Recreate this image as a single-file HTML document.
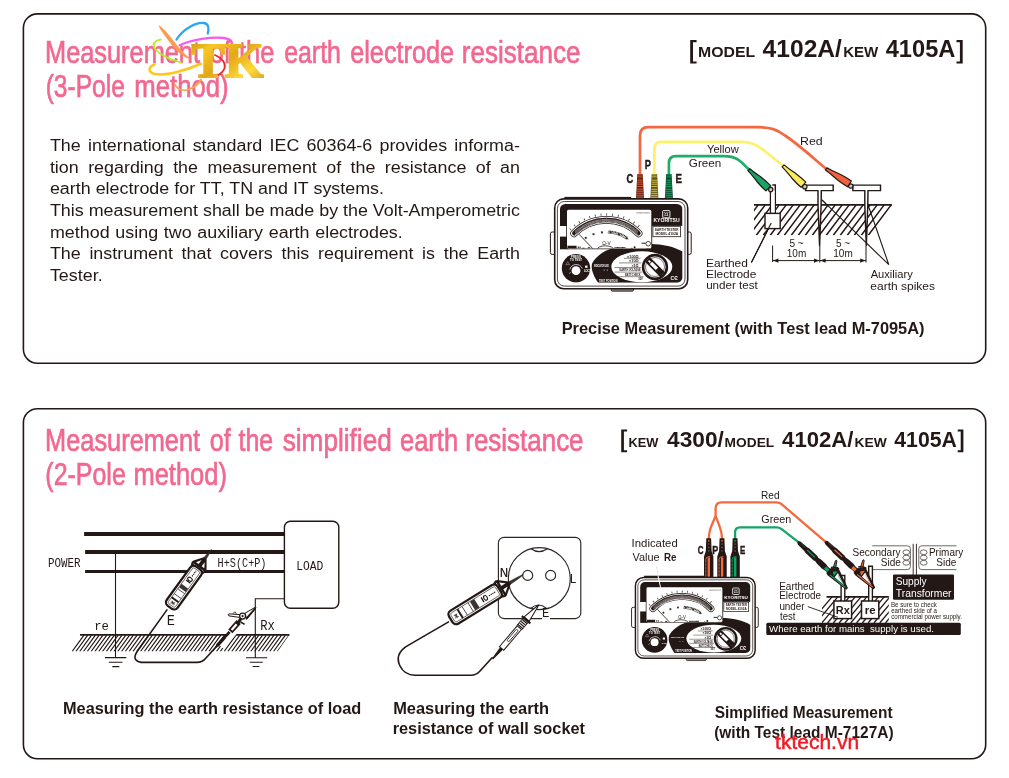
<!DOCTYPE html>
<html><head><meta charset="utf-8">
<style>
html,body{margin:0;padding:0;background:#fff;}
body{width:1009px;height:778px;overflow:hidden;font-family:"Liberation Sans",sans-serif;}
svg{display:block;will-change:transform;}
text{font-family:"Liberation Sans",sans-serif;fill:#231815;}
.t{fill:#f2688f;font-size:31.6px;stroke:#f2688f;stroke-width:0.7px;}
.b{font-weight:bold;font-size:16px;}
.p{font-size:17.3px;}
.s{font-size:11.5px;}
</style></head><body>
<svg width="1009" height="778" viewBox="0 0 1009 778">
<defs>
<filter id="gray" x="-5%" y="-5%" width="110%" height="110%" color-interpolation-filters="sRGB"><feColorMatrix type="saturate" values="0"/></filter>
<g id="tester">
  <!-- lid line -->
  <rect x="16.4" y="4.9" width="66.8" height="2" fill="#231815"/>
  <!-- side tabs -->
  <rect x="2.4" y="40" width="6" height="22.4" rx="1.8" fill="#fff" stroke="#231815" stroke-width="1"/>
  <rect x="138" y="40" width="5.2" height="22.4" rx="1.8" fill="#fff" stroke="#231815" stroke-width="1"/>
  <!-- bottom tab -->
  <rect x="63.2" y="95" width="22.3" height="4.2" rx="1.2" fill="#8a8583" stroke="#231815" stroke-width="0.8"/>
  <!-- body -->
  <rect x="6.7" y="6.9" width="133" height="89.8" rx="9" fill="#fff" stroke="#231815" stroke-width="1.6"/>
  <rect x="9.4" y="9.5" width="127.6" height="84.6" rx="7" fill="none" stroke="#231815" stroke-width="0.8"/>
  <clipPath id="tp"><rect x="11.9" y="11.9" width="122.6" height="78.8" rx="5.5"/></clipPath>
  <g clip-path="url(#tp)">
    <rect x="11.9" y="11.9" width="122.6" height="78.8" fill="#fff"/>
    <!-- top black area -->
    <rect x="11.9" y="11.9" width="122.6" height="22" fill="#231815"/>
    <!-- left black under band -->
    <rect x="11.9" y="44.6" width="8" height="12.7" fill="#231815"/>
    <rect x="11.9" y="33" width="8" height="1" fill="#231815"/>
    <!-- swoosh -->
    <path d="M134.6,59.6 C126,54.5 113,51.6 100,52 L62.3,57.1 C55,59.5 47.5,65 44.3,71 C42.6,75 44.2,82.5 50.2,90.8 L134.6,90.8 Z" fill="#231815"/>
    <!-- window backing (black frame) -->
    <rect x="18.2" y="17" width="86" height="40.3" rx="1.5" fill="#231815"/>
    <!-- dial disc -->
    <circle cx="28" cy="76.2" r="14.2" fill="#231815"/>
  </g>
  <!-- meter window -->
  <rect x="19" y="17.8" width="84.3" height="38.7" rx="1.5" fill="#fff"/>
  <clipPath id="tw"><rect x="19" y="17.8" width="84.3" height="38.7" rx="1.5"/></clipPath>
  <g clip-path="url(#tw)" fill="none" stroke="#231815">
    <!-- outer ticks -->
    <path d="M22.2,37.6 A50.6,50.6 0 0 1 94.5,37.6" stroke-width="2.2" stroke-dasharray="0.7 5.05"/>
    <!-- scale tube -->
    <path d="M26.1,41.4 A45.3,45.3 0 0 1 90.6,41.4" stroke-width="7.6" stroke-linecap="round"/>
    <path d="M26.1,41.4 A45.3,45.3 0 0 1 90.6,41.4" stroke="#fff" stroke-width="6.1" stroke-linecap="round"/>
    <path d="M26.4,41.2 A45.3,45.3 0 0 1 90.3,41.2" stroke="#231815" stroke-width="4.6" stroke-linecap="round"/>
    <path d="M27,39.6 A46.6,46.6 0 0 1 89.7,39.6" stroke="#fff" stroke-width="1.1" stroke-dasharray="0.45 0.6"/>
    <path d="M27.4,42.6 A43.8,43.8 0 0 1 89.3,42.6" stroke="#fff" stroke-width="1.2" stroke-dasharray="0.5 0.7"/>
    <path d="M26.8,41.3 A45.3,45.3 0 0 1 89.9,41.3" stroke="#fff" stroke-width="0.45"/>
    <!-- inner numbers -->
    <path d="M37,46.5 A37.5,37.5 0 0 1 80.5,47.5" stroke-width="2" stroke-dasharray="2 6.6" stroke="#3a3330"/>
    <!-- battery text arc -->
    <path d="M60.5,39.3 Q71,40 79,45.4" stroke-width="1.8" stroke-dasharray="1.1 0.5" stroke="#3a3330"/>
    <path d="M59.6,40.9 Q70,41.6 77.5,46.6 L80.5,47" stroke-width="0.6"/>
    <!-- center line -->
    <path d="M58.4,22 V31.5" stroke-width="0.6" stroke="#8a8583"/>
    <!-- needle -->
    <path d="M31.2,42.4 L45.6,57.5" stroke-width="0.9"/>
    <!-- pivot bump -->
    <path d="M49.2,57.6 A8.2,3.8 0 0 1 65.6,57.6" stroke-width="0.8"/>
    <!-- zero adjust -->
    <circle cx="100.2" cy="51.7" r="2.3" stroke-width="0.8"/>
    <path d="M93.5,51.2 H97.6" stroke-width="1"/>
    <path d="M98,56.6 H102" stroke-width="0.7"/>
    <!-- bottom small marks -->
    <path d="M19.4,55.3 H28.6" stroke-width="3"/>
    <path d="M29.8,55.2 H32.6" stroke-width="1.6" stroke-dasharray="1 0.8"/>
    <path d="M34.5,56.4 H36.5 M39.8,55.8 H42" stroke-width="1.1"/>
    <path d="M66.5,55.6 H77.5" stroke-width="1.2" stroke-dasharray="0.9 0.35"/>
    <path d="M82.8,56.4 H84.6" stroke-width="0.9"/>
    <circle cx="86.6" cy="55.2" r="1" fill="#231815" stroke="none"/>
    <path d="M88.5,20.9 H102" stroke-width="1" stroke-dasharray="0.8 0.4" stroke="#6b6461"/>
  </g>
  <text x="54.3" y="52.9" font-size="5.6" style="fill:#231815" textLength="8.4" lengthAdjust="spacingAndGlyphs">Ω-V</text>
  <!-- logo -->
  <rect x="114.7" y="18.6" width="7.2" height="7.2" rx="0.8" fill="#231815" stroke="#fff" stroke-width="0.9"/>
  <path d="M116.3,20.2 L120.3,24.2 M120.3,20.2 L116.3,24.2" stroke="#fff" stroke-width="0.8"/>
  <circle cx="118.3" cy="22.2" r="1.3" fill="#231815" stroke="#fff" stroke-width="0.6"/>
  <text x="105.4" y="30.4" font-size="4.6" font-weight="bold" style="fill:#fff" textLength="26.3" lengthAdjust="spacingAndGlyphs">KYORITSU</text>
  <!-- model label -->
  <rect x="104.9" y="34.3" width="27.6" height="10.4" fill="#fff" stroke="#231815" stroke-width="0.8"/>
  <text x="107" y="38.9" font-size="3.9" font-weight="bold" textLength="23.6" lengthAdjust="spacingAndGlyphs">EARTH TESTER</text>
  <text x="107.4" y="43.3" font-size="3.9" font-weight="bold" textLength="22.8" lengthAdjust="spacingAndGlyphs">MODEL 4102A</text>
  <!-- selector ellipse -->
  <ellipse cx="93.8" cy="74.8" rx="30.5" ry="15.5" fill="#fff"/>
  <g font-size="3.3" font-weight="bold" text-anchor="end">
    <text x="90.6" y="65.6" textLength="11.5" lengthAdjust="spacingAndGlyphs">×100Ω</text>
    <text x="90.6" y="70.2" textLength="9.5" lengthAdjust="spacingAndGlyphs">×10Ω</text>
    <text x="90.6" y="74.8" textLength="7.2" lengthAdjust="spacingAndGlyphs">×1Ω</text>
    <text x="92.6" y="79.4" textLength="21" lengthAdjust="spacingAndGlyphs">EARTH VOLTAGE</text>
    <text x="92.6" y="84" textLength="15.5" lengthAdjust="spacingAndGlyphs">BATT.CHECK</text>
    <text x="94.8" y="88" textLength="4.6" lengthAdjust="spacingAndGlyphs">30V</text>
  </g>
  <g stroke="#231815" stroke-width="0.5" fill="none">
    <path d="M76,66.3 H92.5 M71,70.9 H93 M66.5,75.5 H93 M66.5,80.1 H94 M70,84.7 H95.5"/>
  </g>
  <!-- knob -->
  <circle cx="107" cy="75" r="11.9" fill="#fff" stroke="#231815" stroke-width="2.6"/>
  <circle cx="107" cy="75" r="9.5" fill="none" stroke="#231815" stroke-width="0.6"/>
  <g transform="translate(0.7,0.7) rotate(45 106.3 74.3)">
    <rect x="95.6" y="70.9" width="21.4" height="6.8" rx="1" fill="#231815"/>
    <rect x="100.5" y="72.6" width="8.5" height="3.4" fill="#fff"/>
    <rect x="97.3" y="73.4" width="2.4" height="1.8" fill="#fff"/>
  </g>
  <!-- dial details -->
<g transform="translate(0.5,1.1)">
  <circle cx="27.5" cy="77.6" r="4.4" fill="#fff"/>
  <path d="M21.3,76.5 A6.6,6.6 0 0 1 33.8,75.5" fill="none" stroke="#fff" stroke-width="0.7"/>
  <path d="M20.8,80.6 L22.2,79" stroke="#fff" stroke-width="0.6"/>
  <text x="27.5" y="64.9" font-size="2.9" font-weight="bold" text-anchor="middle" style="fill:#fff">PRESS</text>
  <text x="27.5" y="68.2" font-size="2.9" font-weight="bold" text-anchor="middle" style="fill:#fff">TO TEST</text>
  <path d="M17.3,71.6 L19.2,68.6 L21.1,71.6 Z" fill="none" stroke="#bbb" stroke-width="0.5"/>
  <rect x="36.6" y="72.5" width="2.4" height="2.2" fill="#fff"/>
  <text x="35.4" y="79.4" font-size="2.7" font-weight="bold" style="fill:#fff">LOCK</text>
  </g>
  <!-- swoosh text -->
  <text x="46" y="74.6" font-size="2.8" font-weight="bold" style="fill:#fff" textLength="15" lengthAdjust="spacingAndGlyphs">INDICATOR LED</text>
  <circle cx="56.2" cy="77.9" r="0.5" fill="#fff"/><circle cx="59.4" cy="77.9" r="0.5" fill="#fff"/>
  <text x="51" y="90" font-size="3" font-weight="bold" style="fill:#fff" textLength="18.5" lengthAdjust="spacingAndGlyphs">TEST POSITION</text>
  <!-- CE -->
  <text x="122.6" y="88" font-size="6" font-weight="bold" style="fill:#fff" textLength="7.2" lengthAdjust="spacingAndGlyphs">CЄ</text>
</g>

</defs>
<!-- frames -->
<rect x="23.4" y="13.9" width="962.3" height="349.3" rx="14" ry="14" fill="#fff" stroke="#231815" stroke-width="1.6"/>
<rect x="23.4" y="408.7" width="962.3" height="350" rx="14" ry="14" fill="#fff" stroke="#231815" stroke-width="1.6"/>

<!-- titles -->
<text x="45.02" y="62.8" font-size="31.6" textLength="154.99" lengthAdjust="spacingAndGlyphs" class="t">Measurement</text>
<text x="209.71" y="62.8" font-size="31.6" textLength="21.00" lengthAdjust="spacingAndGlyphs" class="t">of</text>
<text x="238.90" y="62.8" font-size="31.6" textLength="35.43" lengthAdjust="spacingAndGlyphs" class="t">the</text>
<text x="284.22" y="62.8" font-size="31.6" textLength="56.67" lengthAdjust="spacingAndGlyphs" class="t">earth</text>
<text x="350.21" y="62.8" font-size="31.6" textLength="103.81" lengthAdjust="spacingAndGlyphs" class="t">electrode</text>
<text x="461.87" y="62.8" font-size="31.6" textLength="118.68" lengthAdjust="spacingAndGlyphs" class="t">resistance</text>
<text x="45.65" y="97" font-size="31.6" textLength="79.25" lengthAdjust="spacingAndGlyphs" class="t">(3-Pole</text>
<text x="134.29" y="97" font-size="31.6" textLength="94.34" lengthAdjust="spacingAndGlyphs" class="t">method)</text>
<text x="45.12" y="450.8" font-size="31.6" textLength="154.99" lengthAdjust="spacingAndGlyphs" class="t">Measurement</text>
<text x="209.71" y="450.8" font-size="31.6" textLength="21.00" lengthAdjust="spacingAndGlyphs" class="t">of</text>
<text x="238.50" y="450.8" font-size="31.6" textLength="34.61" lengthAdjust="spacingAndGlyphs" class="t">the</text>
<text x="282.69" y="450.8" font-size="31.6" textLength="109.08" lengthAdjust="spacingAndGlyphs" class="t">simplified</text>
<text x="400.00" y="450.8" font-size="31.6" textLength="58.13" lengthAdjust="spacingAndGlyphs" class="t">earth</text>
<text x="465.28" y="450.8" font-size="31.6" textLength="118.27" lengthAdjust="spacingAndGlyphs" class="t">resistance</text>
<text x="45.33" y="485" font-size="31.6" textLength="80.48" lengthAdjust="spacingAndGlyphs" class="t">(2-Pole</text>
<text x="133.41" y="485" font-size="31.6" textLength="93.51" lengthAdjust="spacingAndGlyphs" class="t">method)</text>

<!-- model labels -->
<g>
<path d="M696.6,40.1 H690.2 V63.5 H696.6 V61.4 H693.0 V42.2 H696.6 Z" fill="#231815"/><path d="M956.5,40.1 H962.7 V63.5 H956.5 V61.4 H959.9000000000001 V42.2 H956.5 Z" fill="#231815"/><path d="M627.1,429.5 H621.2 V452.3 H627.1 V450.3 H623.9000000000001 V431.5 H627.1 Z" fill="#231815"/><path d="M957.7,429.5 H963.4 V452.3 H957.7 V450.3 H960.6999999999999 V431.5 H957.7 Z" fill="#231815"/>
<text x="698.01" y="57.2" font-size="14" font-weight="bold" textLength="57.16" lengthAdjust="spacingAndGlyphs">MODEL</text>
<text x="762.60" y="57.2" font-size="23.7" font-weight="bold" textLength="79.32" lengthAdjust="spacingAndGlyphs">4102A/</text>
<text x="843.16" y="57.2" font-size="14" font-weight="bold" textLength="35.10" lengthAdjust="spacingAndGlyphs">KEW</text>
<text x="885.70" y="57.2" font-size="23.7" font-weight="bold" textLength="69.75" lengthAdjust="spacingAndGlyphs">4105A</text>
<text x="628.40" y="446.6" font-size="13.6" font-weight="bold" textLength="29.88" lengthAdjust="spacingAndGlyphs">KEW</text>
<text x="667.00" y="446.6" font-size="22.7" font-weight="bold" textLength="56.82" lengthAdjust="spacingAndGlyphs">4300/</text>
<text x="724.64" y="446.6" font-size="13.6" font-weight="bold" textLength="49.59" lengthAdjust="spacingAndGlyphs">MODEL</text>
<text x="782.10" y="446.6" font-size="22.7" font-weight="bold" textLength="71.42" lengthAdjust="spacingAndGlyphs">4102A/</text>
<text x="854.54" y="446.6" font-size="13.6" font-weight="bold" textLength="32.24" lengthAdjust="spacingAndGlyphs">KEW</text>
<text x="894.30" y="446.6" font-size="22.7" font-weight="bold" textLength="62.60" lengthAdjust="spacingAndGlyphs">4105A</text>
</g>

<!-- paragraph -->
<g class="p" transform="translate(49.9,0) scale(1.0348,1)">
<text x="0" y="151.3" style="word-spacing:2.18px">The international standard IEC 60364-6 provides informa-</text>
<text x="0" y="172.9" style="word-spacing:4.28px">tion regarding the measurement of the resistance of an</text>
<text x="0" y="194.5">earth electrode for TT, TN and IT systems.</text>
<text x="0" y="216.4" style="word-spacing:-0.04px">This measurement shall be made by the Volt-Amperometric</text>
<text x="0" y="238" style="word-spacing:0.73px">method using two auxiliary earth electrodes.</text>
<text x="0" y="259.5" style="word-spacing:3.57px">The instrument that covers this requirement is the Earth</text>
<text x="0" y="281.1">Tester.</text>
</g>

<!-- captions -->
<g>
<text x="561.68" y="334" font-size="16.6" font-weight="bold" textLength="362.82" lengthAdjust="spacingAndGlyphs">Precise Measurement (with Test lead M-7095A)</text>
<text x="62.98" y="713.8" font-size="16.6" font-weight="bold" textLength="298.26" lengthAdjust="spacingAndGlyphs">Measuring the earth resistance of load</text>
<text x="393.17" y="714.1" font-size="16.6" font-weight="bold" textLength="155.92" lengthAdjust="spacingAndGlyphs">Measuring the earth</text>
<text x="392.68" y="733.6" font-size="16.6" font-weight="bold" textLength="192.30" lengthAdjust="spacingAndGlyphs">resistance of wall socket</text>
<text x="714.66" y="717.6" font-size="16.6" font-weight="bold" textLength="177.92" lengthAdjust="spacingAndGlyphs">Simplified Measurement</text>
<text x="714.17" y="737.6" font-size="16.6" font-weight="bold" textLength="179.48" lengthAdjust="spacingAndGlyphs">(with Test lead M-7127A)</text>
</g>
<text x="775.1" y="749.4" font-size="21" textLength="84" lengthAdjust="spacingAndGlyphs" style="fill:#ee1c25;stroke:#ee1c25;stroke-width:0.5px">tktech.vn</text>

<g id="logo">
<defs>
<linearGradient id="gold" x1="0" y1="0" x2="1" y2="1">
<stop offset="0" stop-color="#b8860b"/><stop offset="0.25" stop-color="#f7c623"/><stop offset="0.5" stop-color="#e3a81a"/><stop offset="0.75" stop-color="#ffd83a"/><stop offset="1" stop-color="#c8961a"/>
</linearGradient>
<filter id="soft" x="-10%" y="-10%" width="120%" height="120%"><feGaussianBlur stdDeviation="0.5"/></filter>
</defs>
<g fill="none" stroke-linecap="round" filter="url(#soft)">
<path d="M176.5,39.5 C183,29 196,22 204,23 C209,24 209,29 207.8,33.5" stroke="#2aa8f2" stroke-width="2.3"/>
<path d="M179.6,45.2 C192,39.5 212,36.5 224,38 C230,39 232.5,41 232,43.5" stroke="#f45cf0" stroke-width="2.3"/>
<path d="M160.8,39.6 C154,40.5 151.5,45 156,50 C161,55.5 170,59.5 181,62.5" stroke="#b7ee1e" stroke-width="1.8"/>
<path d="M154.5,64.5 C148,67 148,72 154,73.8 C165,76.5 186,70.5 201,63.8" stroke="#fbc81e" stroke-width="2.6"/>
<path d="M174.7,84.5 C178,90 184,91.5 190,89 C195,86.8 199,83 201,79.5" stroke="#fca04a" stroke-width="1.8"/>
<path d="M215,55 C222,58 226,63 224.6,68 C223.5,71.5 221,73.5 218.5,75" stroke="#f0281e" stroke-width="1.8"/>
</g>
<path d="M158.5,25.2 C162,26 170,36 176,44 C182,51.5 188,57 191.5,59.5 C185,58.5 177,52 171,44 C165,36 160,29.5 158.5,25.2 Z" fill="#fb9a4e" filter="url(#soft)"/>
<text x="191.5" y="76.8" font-size="48.5" font-weight="bold" textLength="72" lengthAdjust="spacingAndGlyphs" style="font-family:'Liberation Serif',serif;fill:url(#gold);stroke:url(#gold);stroke-width:1.8px;stroke-linejoin:miter" filter="url(#soft)">TK</text>
</g>
<!--LOGO-->
<g id="d1">
<!-- wires -->
<g fill="none" stroke-width="2.7" stroke-linecap="butt">
<path d="M640,175.5 V135.5 Q640,127.2 648.3,127.2 H757 C771,127.2 777,129.5 785,135.5 C798,144 812,157 826.6,169.2" stroke="#f4683f"/>
<path d="M654.4,175.5 V149 Q654.4,141.9 661.5,141.9 H741 C752,141.9 757,145 765.7,151.8 L783.5,166.3" stroke="#fdf16a"/>
<path d="M668.9,175.5 V163.2 Q668.9,156.1 676,156.1 H724 C736,156.1 740,160 749.4,170.2" stroke="#1fae67"/>
</g>
<!-- plugs -->
<path d="M637.3,173.9 L642.7,173.9 L644.0,198.3 L636.0,198.3 Z" fill="#6a2413"/><path d="M637.75,174.90 H642.25" stroke="#cf5630" stroke-width="1"/><path d="M637.64,176.90 H642.36" stroke="#cf5630" stroke-width="1"/><path d="M637.46,180.20 H642.54" stroke="#cf5630" stroke-width="1"/><path d="M637.36,182.20 H642.64" stroke="#cf5630" stroke-width="1"/><path d="M637.25,184.20 H642.75" stroke="#cf5630" stroke-width="1"/><path d="M637.13,186.50 H642.87" stroke="#cf5630" stroke-width="1"/><path d="M636.98,189.30 H643.02" stroke="#cf5630" stroke-width="1"/><path d="M636.87,191.30 H643.13" stroke="#cf5630" stroke-width="1"/><path d="M636.77,193.30 H643.23" stroke="#cf5630" stroke-width="1"/><path d="M636.66,195.30 H643.34" stroke="#cf5630" stroke-width="1"/><path d="M636.56,197.20 H643.44" stroke="#cf5630" stroke-width="1"/>
<path d="M651.6999999999999,173.9 L657.1,173.9 L658.4,198.3 L650.4,198.3 Z" fill="#575018"/><path d="M652.15,174.90 H656.65" stroke="#d2c546" stroke-width="1"/><path d="M652.04,176.90 H656.76" stroke="#d2c546" stroke-width="1"/><path d="M651.86,180.20 H656.94" stroke="#d2c546" stroke-width="1"/><path d="M651.76,182.20 H657.04" stroke="#d2c546" stroke-width="1"/><path d="M651.65,184.20 H657.15" stroke="#d2c546" stroke-width="1"/><path d="M651.53,186.50 H657.27" stroke="#d2c546" stroke-width="1"/><path d="M651.38,189.30 H657.42" stroke="#d2c546" stroke-width="1"/><path d="M651.27,191.30 H657.53" stroke="#d2c546" stroke-width="1"/><path d="M651.17,193.30 H657.63" stroke="#d2c546" stroke-width="1"/><path d="M651.06,195.30 H657.74" stroke="#d2c546" stroke-width="1"/><path d="M650.96,197.20 H657.84" stroke="#d2c546" stroke-width="1"/>
<path d="M666.1999999999999,173.9 L671.6,173.9 L672.9,198.3 L664.9,198.3 Z" fill="#08482d"/><path d="M666.65,174.90 H671.15" stroke="#19a464" stroke-width="1"/><path d="M666.54,176.90 H671.26" stroke="#19a464" stroke-width="1"/><path d="M666.36,180.20 H671.44" stroke="#19a464" stroke-width="1"/><path d="M666.26,182.20 H671.54" stroke="#19a464" stroke-width="1"/><path d="M666.15,184.20 H671.65" stroke="#19a464" stroke-width="1"/><path d="M666.03,186.50 H671.77" stroke="#19a464" stroke-width="1"/><path d="M665.88,189.30 H671.92" stroke="#19a464" stroke-width="1"/><path d="M665.77,191.30 H672.03" stroke="#19a464" stroke-width="1"/><path d="M665.67,193.30 H672.13" stroke="#19a464" stroke-width="1"/><path d="M665.56,195.30 H672.24" stroke="#19a464" stroke-width="1"/><path d="M665.46,197.20 H672.34" stroke="#19a464" stroke-width="1"/>
<use href="#tester" transform="translate(548,192)"/>
<!-- labels C P E -->
<g font-weight="bold" font-size="13" stroke="#231815" stroke-width="0.45">
<text x="626.61" y="183.2" textLength="6.77" lengthAdjust="spacingAndGlyphs" class="f" font-size="13.52">C</text>
<text x="644.72" y="168.7" textLength="6.23" lengthAdjust="spacingAndGlyphs" class="f" font-size="13.52">P</text>
<text x="675.59" y="183.2" textLength="6.46" lengthAdjust="spacingAndGlyphs" class="f" font-size="13.52">E</text>
</g>
<g font-size="11.3">
<text x="707.03" y="152.6" textLength="31.64" lengthAdjust="spacingAndGlyphs" class="f" font-size="11.75">Yellow</text>
<text x="688.85" y="167.2" textLength="32.40" lengthAdjust="spacingAndGlyphs" class="f" font-size="11.75">Green</text>
<text x="800.04" y="145.2" textLength="22.66" lengthAdjust="spacingAndGlyphs" class="f" font-size="11.75">Red</text>
</g>
<!-- ground -->
<clipPath id="h1c"><rect x="754" y="204" width="160" height="31.3"/></clipPath>
<path d="M758.2,204.9 l-22.9,30.4 M765.2,204.9 l-22.9,30.4 M772.2,204.9 l-22.9,30.4 M779.2,204.9 l-22.9,30.4 M786.2,204.9 l-22.9,30.4 M793.2,204.9 l-22.9,30.4 M800.2,204.9 l-22.9,30.4 M807.2,204.9 l-22.9,30.4 M814.2,204.9 l-22.9,30.4 M821.2,204.9 l-22.9,30.4 M828.2,204.9 l-22.9,30.4 M835.2,204.9 l-22.9,30.4 M842.2,204.9 l-22.9,30.4 M849.2,204.9 l-22.9,30.4 M856.2,204.9 l-22.9,30.4 M863.2,204.9 l-22.9,30.4 M870.2,204.9 l-22.9,30.4 M877.2,204.9 l-22.9,30.4 M884.2,204.9 l-22.9,30.4 M891.2,204.9 l-22.9,30.4" stroke="#231815" stroke-width="1.5" fill="none" clip-path="url(#h1c)"/>
<path d="M754,204.9 H891.9" stroke="#231815" stroke-width="1.9"/>
<!-- pointer lines -->
<path d="M822.2,200.2 L888.8,264.7 L869,207.5 M751.4,262.6 L771.2,223.1" stroke="#231815" stroke-width="1.1" fill="none"/>
<!-- electrode stake + box -->
<path d="M770.5,190 V213.4 H775.3 V184.9 H772.3" fill="#fff" stroke="#231815" stroke-width="1.45"/>
<rect x="771.2" y="190.5" width="3.4" height="22" fill="#fff"/>
<rect x="765" y="213.4" width="15.2" height="15.2" fill="#fff" stroke="#231815" stroke-width="1.4"/>
<path d="M751.4,262.6 L771.2,223.1" stroke="#231815" stroke-width="1.1" fill="none"/>
<!-- spikes -->
<path d="M805.6,185.1 H833.2 V190.6 H821.3 L821.1,205 L819.6,246 L818,205 L818,190.6 H805.6 Z" fill="#fff" stroke="#231815" stroke-width="1.45" stroke-linejoin="miter"/>
<path d="M852.9,185.1 H880.5 V190.6 H868 L867.8,205 L866.3,246 L864.8,205 L864.8,190.6 H852.9 Z" fill="#fff" stroke="#231815" stroke-width="1.45" stroke-linejoin="miter"/>
<path d="M821.6,199.6 L826,203.9 M868.6,206.5 L868,204.6" stroke="#231815" stroke-width="1.1"/>
<!-- clips -->
<g stroke="#231815" stroke-width="1.2" stroke-linejoin="round">
<circle cx="770.7" cy="189.6" r="2.2" fill="#c9c9c9"/><g transform="translate(748.9,169.7) rotate(43.8)"><path d="M0,-1.4 C6.8,-1.7 9.5,-2.4 14.9,-3.1 C20.3,-3.6 24.3,-3.6 27.0,-3.5 L27.0,3.5 C24.3,3.6 20.3,3.6 14.9,3.1 C9.5,2.4 6.8,1.7 0,1.4 Z" fill="#17a565"/></g>
<circle cx="804.8" cy="186.7" r="2.2" fill="#c9c9c9"/><g transform="translate(783.1,165.9) rotate(42.8)"><path d="M0,-1.4 C6.9,-1.7 9.7,-2.4 15.2,-3.1 C20.8,-3.6 24.9,-3.6 27.7,-3.5 L27.7,3.5 C24.9,3.6 20.8,3.6 15.2,3.1 C9.7,2.4 6.9,1.7 0,1.4 Z" fill="#f9ea5e"/></g>
<circle cx="850.8" cy="186" r="2.2" fill="#c9c9c9"/><g transform="translate(826.2,168.9) rotate(32.8)"><path d="M0,-1.4 C6.9,-1.7 9.7,-2.4 15.2,-3.1 C20.8,-3.6 24.9,-3.6 27.7,-3.5 L27.7,3.5 C24.9,3.6 20.8,3.6 15.2,3.1 C9.7,2.4 6.9,1.7 0,1.4 Z" fill="#ef623c"/></g>
</g>
<!-- dimension -->
<g stroke="#231815" stroke-width="1" fill="none">
<path d="M772.6,245.5 V262 M772.6,260.6 H866 M819.8,246 V262.5 M866,246 V262.5"/>
</g>
<g fill="#231815">
<path d="M773,260.6 l5.4,-2.1 v4.2 Z M819.4,260.6 l-5.4,-2.1 v4.2 Z M820.2,260.6 l5.4,-2.1 v4.2 Z M865.6,260.6 l-5.4,-2.1 v4.2 Z"/>
</g>
<g font-size="10" text-anchor="middle">
<text x="796.5" y="247">5 ~</text>
<text x="796.5" y="257.4">10m</text>
<text x="843" y="247">5 ~</text>
<text x="843" y="257.4">10m</text>
</g>
<g font-size="11.3">
<text x="705.96" y="266.5" textLength="42.01" lengthAdjust="spacingAndGlyphs" class="f" font-size="11.75">Earthed</text>
<text x="705.97" y="277.7" textLength="50.42" lengthAdjust="spacingAndGlyphs" class="f" font-size="11.75">Electrode</text>
<text x="706.17" y="289" textLength="51.69" lengthAdjust="spacingAndGlyphs" class="f" font-size="11.75">under test</text>
<text x="870.70" y="278.2" textLength="42.00" lengthAdjust="spacingAndGlyphs" class="f" font-size="11.75">Auxiliary</text>
<text x="870.32" y="289.7" textLength="64.75" lengthAdjust="spacingAndGlyphs" class="f" font-size="11.75">earth spikes</text>
</g>
</g>
<!--DIAG1-->
<g id="d2">
<!-- power lines -->
<path d="M84.1,533.9 H284.5 M85.1,552 H284.5" stroke="#231815" stroke-width="4" fill="none"/><path d="M85.1,571.5 H284.5" stroke="#231815" stroke-width="3.1" fill="none"/>
<rect x="284.4" y="521.2" width="54.4" height="87" rx="6" fill="#fff" stroke="#231815" stroke-width="1.4"/>
<g font-family="Liberation Mono" style="font-family:'Liberation Mono',monospace">
<text x="296.27" y="569.6" font-size="12.9" textLength="27.06" lengthAdjust="spacingAndGlyphs" style="font-family:'Liberation Mono',monospace" class="f">LOAD</text>
<text x="48.05" y="566.5" font-size="12.9" textLength="32.48" lengthAdjust="spacingAndGlyphs" style="font-family:'Liberation Mono',monospace" class="f">POWER</text>
<text x="217.61" y="566.9" font-size="13.1" textLength="48.85" lengthAdjust="spacingAndGlyphs" style="font-family:'Liberation Mono',monospace" class="f">H+S(C+P)</text>
<text x="94.15" y="629.9" font-size="13.52" textLength="14.81" lengthAdjust="spacingAndGlyphs" style="font-family:'Liberation Mono',monospace" class="f">re</text>
<text x="260.15" y="630.3" font-size="14.56" textLength="14.61" lengthAdjust="spacingAndGlyphs" style="font-family:'Liberation Mono',monospace" class="f">Rx</text>
<text x="166.74" y="624.7" font-size="14.56" textLength="8.18" lengthAdjust="spacingAndGlyphs" style="font-family:'Liberation Mono',monospace" class="f">E</text>
</g>
<!-- re and Rx lines, earth symbols -->
<g stroke="#231815" stroke-width="1.1" fill="none">
<path d="M115.5,551.8 V657.6 M105,657.6 H126.3 M108.8,662.2 H122.5 M112.3,666.6 H119.3"/>
<path d="M284.4,598.8 H255.3 V657.8 M246,657.8 H267.2 M249.8,662.3 H262.8 M252.7,666.5 H259.3"/>
</g>
<!-- ground hatch -->
<clipPath id="h2c"><path d="M80.2,634.5 H289.5 L277.6,651.6 H68 Z"/></clipPath>
<path d="M84.0,635.1 l-11.9,16.4 M87.8,635.1 l-11.9,16.4 M91.6,635.1 l-11.9,16.4 M95.4,635.1 l-11.9,16.4 M99.2,635.1 l-11.9,16.4 M103.0,635.1 l-11.9,16.4 M106.8,635.1 l-11.9,16.4 M110.6,635.1 l-11.9,16.4 M114.4,635.1 l-11.9,16.4 M118.2,635.1 l-11.9,16.4 M122.0,635.1 l-11.9,16.4 M125.8,635.1 l-11.9,16.4 M129.6,635.1 l-11.9,16.4 M133.4,635.1 l-11.9,16.4 M137.2,635.1 l-11.9,16.4 M141.0,635.1 l-11.9,16.4 M144.8,635.1 l-11.9,16.4 M148.6,635.1 l-11.9,16.4 M152.4,635.1 l-11.9,16.4 M156.2,635.1 l-11.9,16.4 M160.0,635.1 l-11.9,16.4 M163.8,635.1 l-11.9,16.4 M167.6,635.1 l-11.9,16.4 M171.4,635.1 l-11.9,16.4 M175.2,635.1 l-11.9,16.4 M179.0,635.1 l-11.9,16.4 M182.8,635.1 l-11.9,16.4 M186.6,635.1 l-11.9,16.4 M190.4,635.1 l-11.9,16.4 M194.2,635.1 l-11.9,16.4 M198.0,635.1 l-11.9,16.4 M201.8,635.1 l-11.9,16.4 M205.6,635.1 l-11.9,16.4 M209.4,635.1 l-11.9,16.4 M213.2,635.1 l-11.9,16.4 M217.0,635.1 l-11.9,16.4 M220.8,635.1 l-11.9,16.4 M224.6,635.1 l-11.9,16.4 M228.4,635.1 l-11.9,16.4 M232.2,635.1 l-11.9,16.4 M236.0,635.1 l-11.9,16.4 M239.8,635.1 l-11.9,16.4 M243.6,635.1 l-11.9,16.4 M247.4,635.1 l-11.9,16.4 M251.2,635.1 l-11.9,16.4 M255.0,635.1 l-11.9,16.4 M258.8,635.1 l-11.9,16.4 M262.6,635.1 l-11.9,16.4 M266.4,635.1 l-11.9,16.4 M270.2,635.1 l-11.9,16.4 M274.0,635.1 l-11.9,16.4 M277.8,635.1 l-11.9,16.4 M281.6,635.1 l-11.9,16.4 M285.4,635.1 l-11.9,16.4 M289.2,635.1 l-11.9,16.4 M293.0,635.1 l-11.9,16.4 M296.8,635.1 l-11.9,16.4 M300.6,635.1 l-11.9,16.4" stroke="#231815" stroke-width="1.2" fill="none" clip-path="url(#h2c)"/>
<path d="M80,634.8 H289.5" stroke="#231815" stroke-width="1.8"/>
<!-- cable -->
<path d="M167.3,609.4 L137.5,651 Q131,660.5 141,662.4 H197 Q202.5,662.4 206,658 L217.7,645" stroke="#231815" stroke-width="1.6" fill="none"/>
<!-- clip lead -->
<path d="M221,646.5 L242.5,622.5" stroke="#fff" stroke-width="6.5"/>
<path d="M217.2,645.6 L224.8,637.2" stroke="#231815" stroke-width="3.4"/>
<path d="M215.6,647.4 L218.4,644.3" stroke="#231815" stroke-width="2"/>
<path d="M224.6,637.4 L229.8,631.8" stroke="#231815" stroke-width="2.8"/>
<path d="M230.3,631.3 L238.7,622" stroke="#231815" stroke-width="5.6" stroke-linecap="butt"/>
<path d="M231.6,629.9 L236.6,624.3" stroke="#fff" stroke-width="2.2"/>
<path d="M230.9,632.6 L228.9,630.8" stroke="#fff" stroke-width="0.7"/>
<path d="M238.4,622.4 L242.4,616.4" stroke="#231815" stroke-width="3"/>
<path d="M240.6,622 L244.6,624.4" stroke="#231815" stroke-width="1.5"/>
<path d="M245,613.2 L255.7,607 L255.9,608 L246.6,619.4 Z" fill="#fff" stroke="#231815" stroke-width="1" stroke-linejoin="round"/>
<path d="M246.3,618.6 L255.5,608" stroke="#231815" stroke-width="1.8"/>
<path d="M239.8,614.6 L229,613.9 Q227,614.6 229,615.9 L239.6,617.4" fill="#fff" stroke="#231815" stroke-width="1"/>
<path d="M233,613.6 L234.8,611.8 L236.4,613.8" fill="none" stroke="#231815" stroke-width="0.9"/>
<circle cx="242.6" cy="616.1" r="3" fill="#fff" stroke="#231815" stroke-width="1.3"/>
<circle cx="242.6" cy="616.1" r="1.15" fill="#231815"/>
<!--PROBE2--><g transform="translate(169.0,608.2) rotate(-54.1)">
<path d="M58.2,-1.7 L66.2,-0.9 L72.2,-0.25 L72.2,0.25 L66.2,0.9 L58.2,1.7 Z" fill="#3a3330" stroke="#231815" stroke-width="0.5"/>
<path d="M47.2,-7.3 L50.7,-8.8 L52.900000000000006,-8.1 L61.7,-1.7 L61.7,1.7 L52.900000000000006,8.1 L50.7,8.8 L47.2,7.3 Z" fill="#231815"/>
<path d="M53.1,-5.1 L58.2,-1.9 L53.1,-1.9 Z M53.1,5.1 L58.2,1.9 L53.1,1.9 Z" fill="#fff"/>
<path d="M50.300000000000004,-6.2 V6.2" stroke="#fff" stroke-width="0.7"/>
<rect x="1.15" y="-6.7" width="48.550000000000004" height="13.4" rx="4.4" fill="#fff" stroke="#231815" stroke-width="2.3"/>
<rect x="3.5" y="-4.300000000000001" width="43.900000000000006" height="8.600000000000001" rx="1.8" fill="none" stroke="#231815" stroke-width="0.6"/>
<path d="M10.4,-4.300000000000001 V4.300000000000001" stroke="#231815" stroke-width="2"/>
<path d="M14.9,-4.300000000000001 V4.300000000000001 M20.9,-4.300000000000001 V4.300000000000001" stroke="#231815" stroke-width="0.7"/>
<rect x="22.9" y="-4.1" width="4.2" height="8.2" fill="#3a3330"/>
<path d="M5.0,-1.8 L8.0,1.8 M5.0,1.8 L8.0,-1.8 M6.5,-2.4 V2.4" stroke="#3a3330" stroke-width="0.8"/>
<path d="M32.8,-2.7 V2.7" stroke="#231815" stroke-width="1.4"/>
<ellipse cx="35.8" cy="0" rx="1.7" ry="2.5" fill="none" stroke="#231815" stroke-width="1.1"/>
<path d="M39.3,0 H46.2" stroke="#231815" stroke-width="1.2" stroke-dasharray="1.2 0.8"/>
</g><!--/PROBE2-->
</g>
<!--DIAG2-->
<g id="d3">
<rect x="498.4" y="537.3" width="82.4" height="81.3" rx="5.6" fill="#fff" stroke="#2e2623" stroke-width="1.15"/>
<circle cx="539.3" cy="578.6" r="31" fill="#fff" stroke="#2e2623" stroke-width="1.15"/>
<path d="M531,548.8 Q539,554.6 547.4,548.8" fill="none" stroke="#2e2623" stroke-width="1.15"/>
<path d="M530.6,608.5 Q538.3,601.6 546.3,608.2" fill="none" stroke="#2e2623" stroke-width="1.15"/>
<circle cx="527.7" cy="575.4" r="5" fill="#fff" stroke="#2e2623" stroke-width="1.15"/>
<circle cx="550.6" cy="575.4" r="5" fill="#fff" stroke="#2e2623" stroke-width="1.15"/>
<rect x="542" y="614" width="8" height="6" fill="#fff"/>
<g style="font-family:'Liberation Mono',monospace">
<text x="499.53" y="577.2" font-size="13.0" textLength="9.01" lengthAdjust="spacingAndGlyphs" style="font-family:'Liberation Mono',monospace" class="f">N</text>
<text x="569.40" y="582.6" font-size="13.0" textLength="7.13" lengthAdjust="spacingAndGlyphs" style="font-family:'Liberation Mono',monospace" class="f">L</text>
<text x="541.93" y="616.8" font-size="13.0" textLength="7.43" lengthAdjust="spacingAndGlyphs" style="font-family:'Liberation Mono',monospace" class="f">E</text>
</g>
<!-- cable -->
<path d="M449,621.6 L406,646.6 Q394.5,654.5 400,666 Q404.5,675.2 415,675.2 H471 Q476.4,675.2 480,671 L492.5,657.3" stroke="#231815" stroke-width="1.6" fill="none"/>
<!-- test probe 2 -->
<g transform="translate(501.6,648.4) rotate(-49.5)">
<path d="M-14,-0.7 L-2,-1.7 H0 V1.7 H-2 L-14,0.7 Z" fill="#231815"/>
<path d="M38.6,-3.3 L56.5,-0.3 V0.3 L38.6,3.3 Z" fill="#fff" stroke="#231815" stroke-width="1"/>
<rect x="0" y="-2.8" width="27.4" height="5.6" fill="#fff" stroke="#231815" stroke-width="1"/>
<rect x="9.5" y="-1.2" width="15" height="2.4" rx="1.2" fill="none" stroke="#231815" stroke-width="0.8"/>
<rect x="27.4" y="-3.4" width="9" height="6.8" fill="#fff" stroke="#231815" stroke-width="0.8"/>
<path d="M28.8,-3.4 V3.4 M31,-3.4 V3.4 M33.2,-3.4 V3.4 M35.3,-3.4 V3.4" stroke="#231815" stroke-width="1.2"/>
<path d="M37.7,-5.6 V5.6" stroke="#231815" stroke-width="2.1"/>
</g>
<!-- probe -->
<!--PROBE3--><g transform="translate(449.8,620.0) rotate(-31.7)">
<path d="M66.8,-1.7 L80.1,-0.9 L86.1,-0.25 L86.1,0.25 L80.1,0.9 L66.8,1.7 Z" fill="#3a3330" stroke="#231815" stroke-width="0.5"/>
<path d="M55.8,-8.2 L59.3,-9.7 L61.5,-9.0 L70.3,-1.7 L70.3,1.7 L61.5,9.0 L59.3,9.7 L55.8,8.2 Z" fill="#231815"/>
<path d="M61.699999999999996,-6.0 L66.8,-1.9 L61.699999999999996,-1.9 Z M61.699999999999996,6.0 L66.8,1.9 L61.699999999999996,1.9 Z" fill="#fff"/>
<path d="M58.9,-7.1 V7.1" stroke="#fff" stroke-width="0.7"/>
<rect x="1.15" y="-7.6" width="57.15" height="15.2" rx="4.4" fill="#fff" stroke="#231815" stroke-width="2.3"/>
<rect x="3.5" y="-5.199999999999999" width="52.5" height="10.399999999999999" rx="1.8" fill="none" stroke="#231815" stroke-width="0.6"/>
<path d="M12.2,-5.199999999999999 V5.199999999999999" stroke="#231815" stroke-width="2"/>
<path d="M17.5,-5.199999999999999 V5.199999999999999 M24.5,-5.199999999999999 V5.199999999999999" stroke="#231815" stroke-width="0.7"/>
<rect x="26.8" y="-5.0" width="5.0" height="10.0" fill="#3a3330"/>
<path d="M5.8,-1.8 L9.3,1.8 M5.8,1.8 L9.3,-1.8 M7.6,-2.4 V2.4" stroke="#3a3330" stroke-width="0.8"/>
<path d="M38.5,-2.7 V2.7" stroke="#231815" stroke-width="1.4"/>
<ellipse cx="42.0" cy="0" rx="1.7" ry="2.5" fill="none" stroke="#231815" stroke-width="1.1"/>
<path d="M46.1,0 H54.2" stroke="#231815" stroke-width="1.2" stroke-dasharray="1.2 0.8"/>
</g><!--/PROBE3-->
</g>
<!--DIAG3-->
<g id="d4">
<!-- wires -->
<g fill="none" stroke-width="2.3" stroke-linecap="butt">
<path d="M708.7,539.5 C708.7,528 713,524 715.6,515.5 M722,539.5 C722,528 718,524 715.6,515.5 M715.6,518 V508.3 Q715.6,502.3 721.6,502.3 H776.5 Q779.5,502.3 781.6,504.2 L825.6,541.8" stroke="#f26a3d"/>
<path d="M735.1,539.5 V532.3 Q735.1,527.3 740.1,527.3 H776.5 Q779.3,527.3 781.3,528.8 L798.4,542.2" stroke="#12a565"/>
</g>
<path d="M706.3000000000001,538.3 H711.1 L711.6,551 L713.4000000000001,556.6 V577.7 H704.0 V556.6 L705.8000000000001,551 Z" fill="#231815"/><path d="M708.8000000000001,557.4 V576.8" stroke="#f26a3d" stroke-width="2.4"/><path d="M705.8000000000001,576.6 V559.4 Q705.8000000000001,557 708.1,556.8 L710.1,556.7" fill="none" stroke="#f26a3d" stroke-width="0.9"/><path d="M705.3000000000001,563 H706.4000000000001 M705.3000000000001,566.4 H706.4000000000001 M705.3000000000001,569.8 H706.4000000000001 M705.3000000000001,573.2 H706.4000000000001" stroke="#231815" stroke-width="0.9"/><circle cx="708.7" cy="540.8" r="0.85" fill="#f26a3d"/><path d="M708.0,544 H709.4000000000001 M708.0,547.4 H709.4000000000001 M708.0,551 H709.4000000000001" stroke="#9a9492" stroke-width="0.7"/>
<path d="M719.6,538.3 H724.4 L724.9,551 L726.7,556.6 V577.7 H717.3 V556.6 L719.1,551 Z" fill="#231815"/><path d="M722.1,557.4 V576.8" stroke="#f26a3d" stroke-width="2.4"/><path d="M719.1,576.6 V559.4 Q719.1,557 721.4,556.8 L723.4,556.7" fill="none" stroke="#f26a3d" stroke-width="0.9"/><path d="M718.6,563 H719.7 M718.6,566.4 H719.7 M718.6,569.8 H719.7 M718.6,573.2 H719.7" stroke="#231815" stroke-width="0.9"/><circle cx="722" cy="540.8" r="0.85" fill="#f26a3d"/><path d="M721.3,544 H722.7 M721.3,547.4 H722.7 M721.3,551 H722.7" stroke="#9a9492" stroke-width="0.7"/>
<path d="M732.7,538.3 H737.5 L738.0,551 L739.8000000000001,556.6 V577.7 H730.4 V556.6 L732.2,551 Z" fill="#231815"/><path d="M735.2,557.4 V576.8" stroke="#12a565" stroke-width="2.4"/><path d="M732.2,576.6 V559.4 Q732.2,557 734.5,556.8 L736.5,556.7" fill="none" stroke="#12a565" stroke-width="0.9"/><path d="M731.7,563 H732.8000000000001 M731.7,566.4 H732.8000000000001 M731.7,569.8 H732.8000000000001 M731.7,573.2 H732.8000000000001" stroke="#231815" stroke-width="0.9"/><circle cx="735.1" cy="540.8" r="0.85" fill="#12a565"/><path d="M734.4,544 H735.8000000000001 M734.4,547.4 H735.8000000000001 M734.4,551 H735.8000000000001" stroke="#9a9492" stroke-width="0.7"/>
<use href="#tester" transform="translate(629.4,571.3) scale(0.9)"/>
<!-- pointer white line -->
<path d="M656.6,566 L658.3,577" stroke="#e4e2e1" stroke-width="0.9"/>
<path d="M658.2,576.5 L661.4,591.6" stroke="#fff" stroke-width="1"/>
<!-- labels -->
<g font-weight="bold" font-size="10.6" stroke="#231815" stroke-width="0.4">
<text x="697.85" y="553.7" textLength="5.80" lengthAdjust="spacingAndGlyphs" class="f" font-size="11.02">C</text>
<text x="712.24" y="553.7" textLength="6.00" lengthAdjust="spacingAndGlyphs" class="f" font-size="11.02">P</text>
<text x="739.90" y="553.7" textLength="5.31" lengthAdjust="spacingAndGlyphs" class="f" font-size="11.02">E</text>
</g>
<g font-size="9.6">
<text x="761.01" y="498.7" font-size="11.02" textLength="18.56" lengthAdjust="spacingAndGlyphs" class="f">Red</text>
<text x="761.30" y="522.8" font-size="11.02" textLength="29.91" lengthAdjust="spacingAndGlyphs" class="f">Green</text>
<text x="631.61" y="546.9" textLength="46.13" lengthAdjust="spacingAndGlyphs" font-size="10.4" class="f">Indicated</text>
<text x="632.50" y="560.6" textLength="27.14" lengthAdjust="spacingAndGlyphs" font-size="10.4" class="f">Value</text>
<text x="663.99" y="560.6" textLength="12.45" lengthAdjust="spacingAndGlyphs" font-size="10.4" font-weight="bold" class="f">Re</text>
</g>
<!-- transformer -->
<g fill="none" stroke="#4a4340" stroke-width="0.8">
<path d="M872.2,545.8 H907.4 Q910.4,545.8 910.4,548.8 V566.6 Q910.4,569.6 907.4,569.6 H872.2"/>
<path d="M956.4,545.8 H921.8 Q918.8,545.8 918.8,548.8 V566.6 Q918.8,569.6 921.8,569.6 H956.4"/>
<path d="M913.2,543.8 V575 M916.4,543.8 V575" stroke="#231815" stroke-width="0.9"/>
<ellipse cx="906.3" cy="552.3" rx="3.4" ry="2.4"/><ellipse cx="906.3" cy="557.6" rx="3.4" ry="2.4"/><ellipse cx="906.3" cy="562.8" rx="3.4" ry="2.4"/>
<ellipse cx="923.7" cy="552.3" rx="3.4" ry="2.4"/><ellipse cx="923.7" cy="557.6" rx="3.4" ry="2.4"/><ellipse cx="923.7" cy="562.8" rx="3.4" ry="2.4"/>
</g>
<g font-size="10">
<text x="852.59" y="556.1" textLength="47.91" lengthAdjust="spacingAndGlyphs" class="f" font-size="10.4">Secondary</text>
<text x="880.79" y="566" textLength="20.12" lengthAdjust="spacingAndGlyphs" class="f" font-size="10.4">Side</text>
<text x="928.92" y="556.1" textLength="34.38" lengthAdjust="spacingAndGlyphs" class="f" font-size="10.4">Primary</text>
<text x="936.29" y="566" textLength="20.12" lengthAdjust="spacingAndGlyphs" class="f" font-size="10.4">Side</text>
</g>
<rect x="893" y="574.5" width="61" height="25.2" rx="1.2" fill="#231815"/>
<text x="895.68" y="585" font-size="11.02" textLength="31.02" lengthAdjust="spacingAndGlyphs" style="fill:#fff" class="f">Supply</text>
<text x="895.84" y="596.9" font-size="11.02" textLength="55.71" lengthAdjust="spacingAndGlyphs" style="fill:#fff" class="f">Transformer</text>
<g font-size="6.2">
<text x="890.92" y="606.6" textLength="45.99" lengthAdjust="spacingAndGlyphs" class="f" font-size="6.45">Be sure to check</text>
<text x="891.21" y="612.8" textLength="45.75" lengthAdjust="spacingAndGlyphs" class="f" font-size="6.45">earthed side of a</text>
<text x="891.21" y="619.1" textLength="70.75" lengthAdjust="spacingAndGlyphs" class="f" font-size="6.45">commercial power supply.</text>
</g>
<!-- ground -->
<clipPath id="h4c"><path d="M826.5,596 H888.8 V623 H822 V601.5 Z"/></clipPath>
<path d="M832.0,596.9 l-21.9,26.1 M837.8,596.9 l-21.9,26.1 M843.6,596.9 l-21.9,26.1 M849.4,596.9 l-21.9,26.1 M855.2,596.9 l-21.9,26.1 M861.0,596.9 l-21.9,26.1 M866.8,596.9 l-21.9,26.1 M872.6,596.9 l-21.9,26.1 M878.4,596.9 l-21.9,26.1 M884.2,596.9 l-21.9,26.1 M890.0,596.9 l-21.9,26.1 M895.8,596.9 l-21.9,26.1 M901.6,596.9 l-21.9,26.1 M907.4,596.9 l-21.9,26.1" stroke="#231815" stroke-width="1.3" fill="none" clip-path="url(#h4c)"/>
<path d="M826.5,596.9 H888.8" stroke="#231815" stroke-width="1.6"/>
<!-- stakes -->
<path d="M841.1,601 V575.5 H844.8 V601" fill="#fff" stroke="#231815" stroke-width="1.4"/>
<path d="M868.7,601 V566.2 H872.4 V601" fill="#fff" stroke="#231815" stroke-width="1.4"/>
<rect x="833.9" y="601" width="17.7" height="17.6" fill="#fff" stroke="#231815" stroke-width="1.5"/>
<rect x="861.5" y="601" width="17.3" height="17.6" fill="#fff" stroke="#231815" stroke-width="1.5"/>
<text x="835.82" y="614.2" font-size="11.02" font-weight="bold" textLength="13.91" lengthAdjust="spacingAndGlyphs" class="f">Rx</text>
<text x="864.88" y="614.2" font-size="11.02" font-weight="bold" textLength="10.91" lengthAdjust="spacingAndGlyphs" class="f">re</text>
<path d="M807.8,606.6 L838,617.3" stroke="#231815" stroke-width="0.9"/>
<g font-size="10">
<text x="779.22" y="589.8" textLength="34.94" lengthAdjust="spacingAndGlyphs" class="f" font-size="10.4">Earthed</text>
<text x="779.23" y="599.3" textLength="41.77" lengthAdjust="spacingAndGlyphs" class="f" font-size="10.4">Electrode</text>
<text x="779.38" y="609.6" textLength="25.27" lengthAdjust="spacingAndGlyphs" class="f" font-size="10.4">under</text>
<text x="780.00" y="619.5" textLength="15.37" lengthAdjust="spacingAndGlyphs" class="f" font-size="10.4">test</text>
</g>
<!-- bottom bar -->
<rect x="766.3" y="622.7" width="194.5" height="12.2" rx="1.5" fill="#231815"/>
<text x="769.10" y="631.6" font-size="9.78" style="fill:#fff" textLength="164.87" lengthAdjust="spacingAndGlyphs" class="f">Where earth for mains&#160; supply is used.</text>
<!-- leads -->
<g transform="translate(797.9,541.8) rotate(43.2)">
<path d="M0,-1 L2,-2 L11,-2.4 L13,-2.9 L24,-2.9 L26,-2.3 L29,-2.9 L36,-3 L39,-2.4 L43.5,-2.4 V2.4 L39,2.4 L36,3 L29,2.9 L26,2.3 L24,2.9 L13,2.9 L11,2.4 L2,2 L0,1 Z" fill="#231815"/>
<path d="M12.5,-0.3 H23" stroke="#12a565" stroke-width="1.2"/>
<path d="M3,-1 H9" stroke="#12a565" stroke-width="0.5" opacity="0.7"/>
<path d="M37.5,0.2 H43.5" stroke="#12a565" stroke-width="3.2"/>
<!-- clip -->
<path d="M42.5,-3 L46.6,-8.4 L67.6,-0.2 L67.6,1.5 L45,3.6 L42.5,3 Z" fill="#231815" stroke="#231815" stroke-width="1" stroke-linejoin="round"/>
<path d="M50.5,-4.6 L63.5,0.1 L51,0.6 Z" fill="#fff"/>
<path d="M46,-2 L49,-5.6 L49.6,0.4 Z" fill="#12a565"/>
<path d="M46,2.2 L66,0.9" stroke="#12a565" stroke-width="1"/>
<path d="M52,-3.2 L63,0.2" stroke="#12a565" stroke-width="0.6"/>
<path d="M46.3,-5.6 L41.6,-12.6 Q40.6,-13.6 40.2,-12.2 L43.6,-5 Z" fill="#12a565" stroke="#231815" stroke-width="0.9" stroke-linejoin="round"/>
<path d="M41.5,-4 Q44,-7.5 48.5,-8.6" fill="none" stroke="#231815" stroke-width="1.3"/>
</g>
<g transform="translate(825.2,541.4) rotate(43.2)">
<path d="M0,-1 L2,-2 L11,-2.4 L13,-2.9 L24,-2.9 L26,-2.3 L29,-2.9 L36,-3 L39,-2.4 L43.5,-2.4 V2.4 L39,2.4 L36,3 L29,2.9 L26,2.3 L24,2.9 L13,2.9 L11,2.4 L2,2 L0,1 Z" fill="#231815"/>
<path d="M12.5,-0.3 H23" stroke="#f26a3d" stroke-width="1.2"/>
<path d="M3,-1 H9" stroke="#f26a3d" stroke-width="0.5" opacity="0.7"/>
<path d="M37.5,0.2 H43.5" stroke="#f26a3d" stroke-width="3.2"/>
<!-- clip -->
<path d="M42.5,-3 L46.6,-8.4 L67.6,-0.2 L67.6,1.5 L45,3.6 L42.5,3 Z" fill="#231815" stroke="#231815" stroke-width="1" stroke-linejoin="round"/>
<path d="M50.5,-4.6 L63.5,0.1 L51,0.6 Z" fill="#fff"/>
<path d="M46,-2 L49,-5.6 L49.6,0.4 Z" fill="#f26a3d"/>
<path d="M46,2.2 L66,0.9" stroke="#f26a3d" stroke-width="1"/>
<path d="M52,-3.2 L63,0.2" stroke="#f26a3d" stroke-width="0.6"/>
<path d="M46.3,-5.6 L41.6,-12.6 Q40.6,-13.6 40.2,-12.2 L43.6,-5 Z" fill="#f26a3d" stroke="#231815" stroke-width="0.9" stroke-linejoin="round"/>
<path d="M41.5,-4 Q44,-7.5 48.5,-8.6" fill="none" stroke="#231815" stroke-width="1.3"/>
</g>
</g>
<!--DIAG4-->
</svg>
</body></html>
